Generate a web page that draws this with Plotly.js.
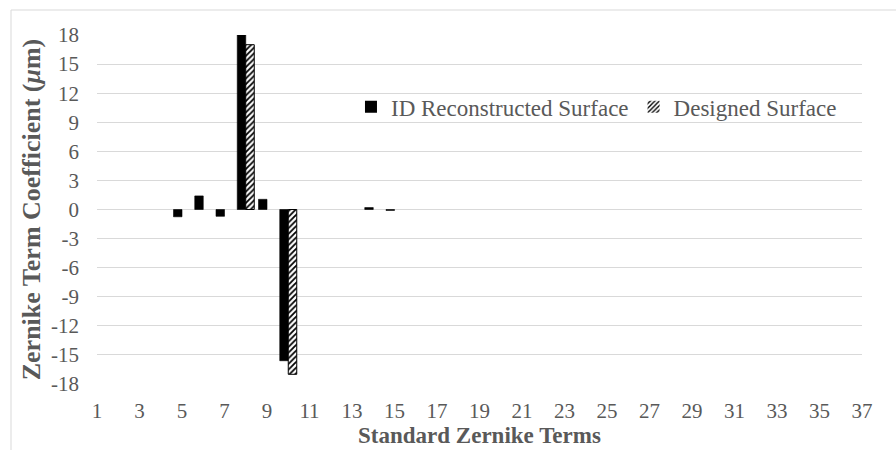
<!DOCTYPE html>
<html>
<head>
<meta charset="utf-8">
<script src="https://cdn.plot.ly/plotly-3.0.1.min.js"></script>
<style>
  html, body { margin: 0; padding: 0; background: #ffffff; }
  #chart { width: 896px; height: 450px; }
</style>
</head>
<body>
<div id="chart"></div>
<script>
// Standard Zernike term numbers (categories)
const terms = [1,2,3,4,5,6,7,8,9,10,11,12,13,14,15,16,17,18,19,20,21,22,23,24,25,26,27,28,29,30,31,32,33,34,35,36,37];
// ID reconstructed surface coefficients (µm)
const reconstructed = [0,0,0,0,-0.75,1.4,-0.7,18.0,1.05,-15.6,0,0,0,0.2,-0.1,0,0,0,0,0,0,0,0,0,0,0,0,0,0,0,0,0,0,0,0,0,0];
// Designed surface coefficients (µm)
const designed = [0,0,0,0,0,0,0,17.0,0,-17.0,0,0,0,0,0,0,0,0,0,0,0,0,0,0,0,0,0,0,0,0,0,0,0,0,0,0,0];
// Axis ticks
const xTicks = [1,3,5,7,9,11,13,15,17,19,21,23,25,27,29,31,33,35,37];
const yTicks = [18,15,12,9,6,3,0,-3,-6,-9,-12,-15,-18];

const FONT = "'Liberation Serif', 'DejaVu Serif', serif";
const GREY = "#595959";

// no outline on zero-height bars
const outline = (vals, w) => vals.map(v => (v === 0 ? 0 : w));

const traces = [
  {
    type: 'bar', name: 'ID Reconstructed Surface',
    x: terms, y: reconstructed,
    marker: { color: '#000000', line: { color: '#000000', width: outline(reconstructed, 0.6) } }
  },
  {
    type: 'bar', name: 'Designed Surface',
    x: terms, y: designed,
    marker: {
      color: '#ffffff',
      line: { color: '#000000', width: outline(designed, 1) },
      pattern: { shape: '/', fgcolor: '#000000', bgcolor: '#ffffff', size: 4, solidity: 0.45 }
    }
  }
];

const layout = {
  width: 896, height: 450,
  margin: { l: 97, r: 34, t: 35, b: 66 },
  paper_bgcolor: '#ffffff', plot_bgcolor: '#ffffff',
  font: { family: FONT, color: GREY, size: 21 },
  barmode: 'group', bargap: 0.2, bargroupgap: 0,
  showlegend: true,
  legend: {
    orientation: 'h', x: 0.332, y: 0.794, xanchor: 'left', yanchor: 'middle',
    font: { family: FONT, color: GREY, size: 23 }, itemwidth: 30,
    bgcolor: 'rgba(0,0,0,0)', tracegroupgap: 0
  },
  xaxis: {
    type: 'linear', range: [1, 37], tickvals: xTicks, ticktext: xTicks.map(String),
    showgrid: false, zeroline: false, showline: false, ticks: '',
    ticklabelstandoff: 12,
    tickfont: { family: FONT, color: GREY, size: 21 },
    title: { text: '<b>Standard Zernike Terms</b>', font: { family: FONT, color: GREY, size: 23 }, standoff: 0 }
  },
  yaxis: {
    range: [-18, 18], tickvals: yTicks, ticktext: yTicks.map(String),
    showgrid: true, gridcolor: '#d9d9d9', gridwidth: 1,
    zeroline: true, zerolinecolor: '#d9d9d9', zerolinewidth: 1,
    showline: false, ticks: '', ticklen: 0,
    ticklabelstandoff: 17,
    tickfont: { family: FONT, color: GREY, size: 21 },
    title: { text: '<b>Zernike Term Coefficient (<i>μ</i>m)</b>', font: { family: FONT, color: GREY, size: 26 }, standoff: 2 }
  },
  shapes: [
    { type: 'line', xref: 'paper', yref: 'paper', x0: -0.1124, x1: 1.1, y0: 1.0716, y1: 1.0716, line: { color: '#d9d9d9', width: 1 } },
    { type: 'line', xref: 'paper', yref: 'paper', x0: -0.1124, x1: -0.1124, y0: 1.0716, y1: -0.3, line: { color: '#d9d9d9', width: 1 } }
  ]
};

Plotly.newPlot('chart', traces, layout, { displayModeBar: false, staticPlot: true });
</script>
</body>
</html>
